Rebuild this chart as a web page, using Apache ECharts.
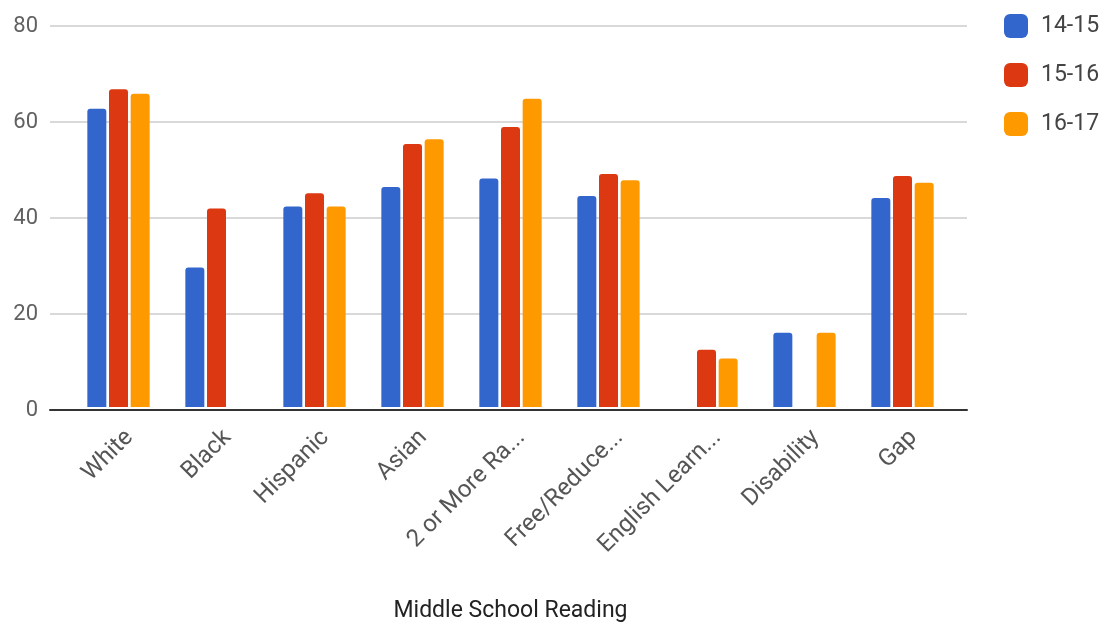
<!DOCTYPE html>
<html>
<head>
<meta charset="utf-8">
<script src="https://cdn.jsdelivr.net/npm/echarts@6/dist/echarts.min.js"></script>
<style>
html,body{margin:0;padding:0;background:#fff;}
#chart{width:1112px;height:628px;}
</style>
</head>
<body>
<div id="chart"></div>
<script>
const categories = ['White', 'Black', 'Hispanic', 'Asian', '2 or More Ra...', 'Free/Reduce...', 'English Learn...', 'Disability', 'Gap'];
const seriesNames = ['14-15', '15-16', '16-17'];
const values1415 = [62.6, 29.3, 42.1, 46.2, 48.0, 44.3, null, 15.6, 43.9];
const values1516 = [66.7, 41.7, 44.9, 55.2, 58.8, 48.9, 12.0, null, 48.5];
const values1617 = [65.8, null, 42.1, 56.2, 64.7, 47.6, 10.2, 15.6, 47.1];
const yTicks = [0, 20, 40, 60, 80];
const axisTitle = 'Middle School Reading';

const colors = ['#3366cc', '#dc3912', '#ff9900'];
const allValues = [values1415, values1516, values1617];

const chart = echarts.init(document.getElementById('chart'), null, {renderer: 'canvas'});
const font = 'Roboto, "Noto Sans", sans-serif';

const option = {
  animation: false,
  backgroundColor: '#ffffff',
  textStyle: {fontFamily: font},
  grid: [
    {left: 69.5, right: 160.5, top: 26, bottom: 218},
    {left: 50, right: 145, top: 26, bottom: 218},
    {left: 80.5, right: 149.5, top: 26, bottom: 218}
  ],
  legend: {
    orient: 'vertical',
    left: 1004,
    top: 14,
    padding: 0,
    itemWidth: 24,
    itemHeight: 24,
    itemGap: 25,
    icon: 'roundRect',
    textStyle: {fontSize: 23, color: '#444', fontFamily: font, padding: [0, 0, 0, 8]},
    data: seriesNames
  },
  xAxis: [
    {
      type: 'category',
      gridIndex: 0,
      data: categories,
      axisLine: {show: false},
      axisTick: {show: false},
      axisLabel: {show: false},
      name: axisTitle,
      nameLocation: 'middle',
      nameGap: 193,
      nameTextStyle: {fontSize: 23, color: '#222', fontFamily: font}
    },
    {
      type: 'value',
      gridIndex: 1,
      min: 0,
      max: 1,
      axisLine: {show: true, onZero: false, lineStyle: {color: '#333', width: 2}},
      axisTick: {show: false},
      axisLabel: {show: false},
      splitLine: {show: false}
    },
    {
      type: 'category',
      gridIndex: 2,
      data: categories,
      axisLine: {show: false},
      axisTick: {show: false},
      axisLabel: {
        rotate: 45,
        interval: 0,
        margin: 24,
        fontSize: 24,
        color: '#555',
        fontFamily: font
      }
    }
  ],
  yAxis: [
    {
      type: 'value',
      gridIndex: 0,
      min: yTicks[0],
      max: yTicks[yTicks.length - 1],
      interval: 20,
      show: false
    },
    {
      type: 'value',
      gridIndex: 1,
      min: yTicks[0],
      max: yTicks[yTicks.length - 1],
      interval: 20,
      axisLine: {show: false},
      axisTick: {show: false},
      axisLabel: {fontSize: 22, color: '#616161', margin: 12, fontFamily: font},
      splitLine: {show: true, lineStyle: {color: '#cccccc', width: 1.5}}
    },
    {
      type: 'value',
      gridIndex: 2,
      min: yTicks[0],
      max: yTicks[yTicks.length - 1],
      interval: 20,
      show: false
    }
  ],
  series: seriesNames.map((name, i) => ({
    name: name,
    type: 'bar',
    xAxisIndex: 0,
    yAxisIndex: 0,
    data: allValues[i],
    barWidth: 19,
    barGap: '14%',
    itemStyle: {color: colors[i], borderRadius: [3, 3, 0, 0]}
  }))
};
chart.setOption(option);
</script>
</body>
</html>
